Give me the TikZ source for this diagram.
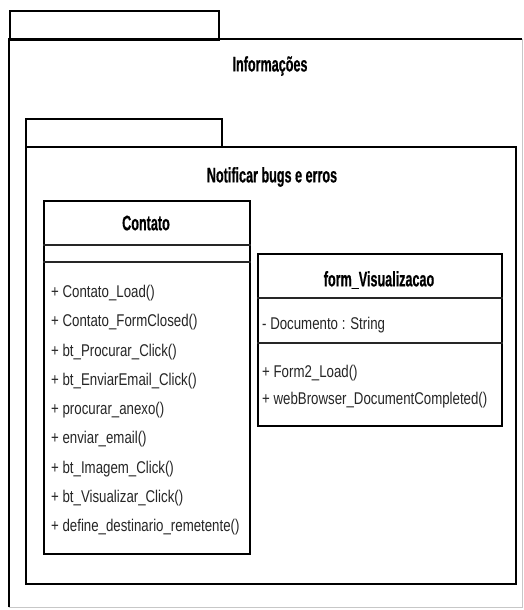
\documentclass[tikz,border=0pt]{standalone}
\usepackage{fontspec}
\setmainfont{Liberation Sans}[FakeStretch=0.78]
\newfontfamily\titlefont{Liberation Sans}[FakeStretch=0.6, FakeBold=0.6]
\usetikzlibrary{calc}

\tikzset{
  pkgline/.style={draw=black, line width=2pt},
  faintline/.style={draw=black!22, line width=1.2pt},
  pkgbox/.style={pkgline, rectangle, anchor=north west, inner sep=0pt},
  classbox/.style={draw=black, line width=2.3pt, rectangle, anchor=north west, inner sep=0pt, fill=white},
  sepline/.style={draw=black!85, line width=1.4pt},
  pkgtitle/.style={font=\titlefont\bfseries\fontsize{21}{24}\selectfont, inner sep=0pt},
  classtitle/.style={font=\titlefont\bfseries\fontsize{21}{24}\selectfont, inner sep=0pt},
  member/.style={font=\fontsize{17}{20}\selectfont, anchor=west, inner sep=0pt, text=black!85}
}

\begin{document}
\begin{tikzpicture}[x=1pt, y=-1pt]
  \useasboundingbox[fill=white] (0,0) rectangle (524,610);

  % package "Informações"
  \node[pkgbox, minimum width=209pt, minimum height=29pt] (infTab) at (9,10) {};
  \node[rectangle, anchor=north west, inner sep=0pt, minimum width=513pt, minimum height=568pt] (inf) at (9,39) {};
  \draw[faintline] (inf.north east) -- (inf.south east) -- (inf.south west);
  \draw[pkgline] (inf.south west) -- (inf.north west) -- (inf.north east);
  \node[pkgtitle] (infTitle) at (270,66) {Informações};

  % package "Notificar bugs e erros"
  \node[pkgbox, minimum width=196pt, minimum height=28pt] (notTab) at (25,118) {};
  \node[pkgbox, minimum width=490pt, minimum height=437pt] (not) at (25,146) {};
  \node[pkgtitle] (notTitle) at (272,177) {Notificar bugs e erros};

  % class Contato
  \node[classbox, minimum width=206pt, minimum height=353pt] (contato) at (43,200) {};
  \draw[sepline] ($(contato.north west)+(0,45)$) -- ($(contato.north east)+(0,45)$);
  \draw[sepline] ($(contato.north west)+(0,62)$) -- ($(contato.north east)+(0,62)$);
  \node[classtitle] (contatoName) at (146,223) {Contato};
  \foreach \txt [count=\i from 0] in {
      + Contato\_Load(),
      + Contato\_FormClosed(),
      + bt\_Procurar\_Click(),
      + bt\_EnviarEmail\_Click(),
      + procurar\_anexo(),
      + enviar\_email(),
      + bt\_Imagem\_Click(),
      + bt\_Visualizar\_Click(),
      + define\_destinario\_remetente()}
    \node[member] (cm\i) at (51,{293+29.3*\i}) {\txt};

  % class form_Visualizacao
  \node[classbox, minimum width=244pt, minimum height=172pt] (form) at (257,253) {};
  \draw[sepline] ($(form.north west)+(0,45)$) -- ($(form.north east)+(0,45)$);
  \draw[sepline] ($(form.north west)+(0,90)$) -- ($(form.north east)+(0,90)$);
  \node[classtitle] (formName) at (379,280) {form\_Visualizacao};
  \node[member] (fa0) at (262,325) {- Documento : String};
  \node[member] (fm0) at (262,373) {+ Form2\_Load()};
  \node[member] (fm1) at (262,400) {+ webBrowser\_DocumentCompleted()};
\end{tikzpicture}
\end{document}
